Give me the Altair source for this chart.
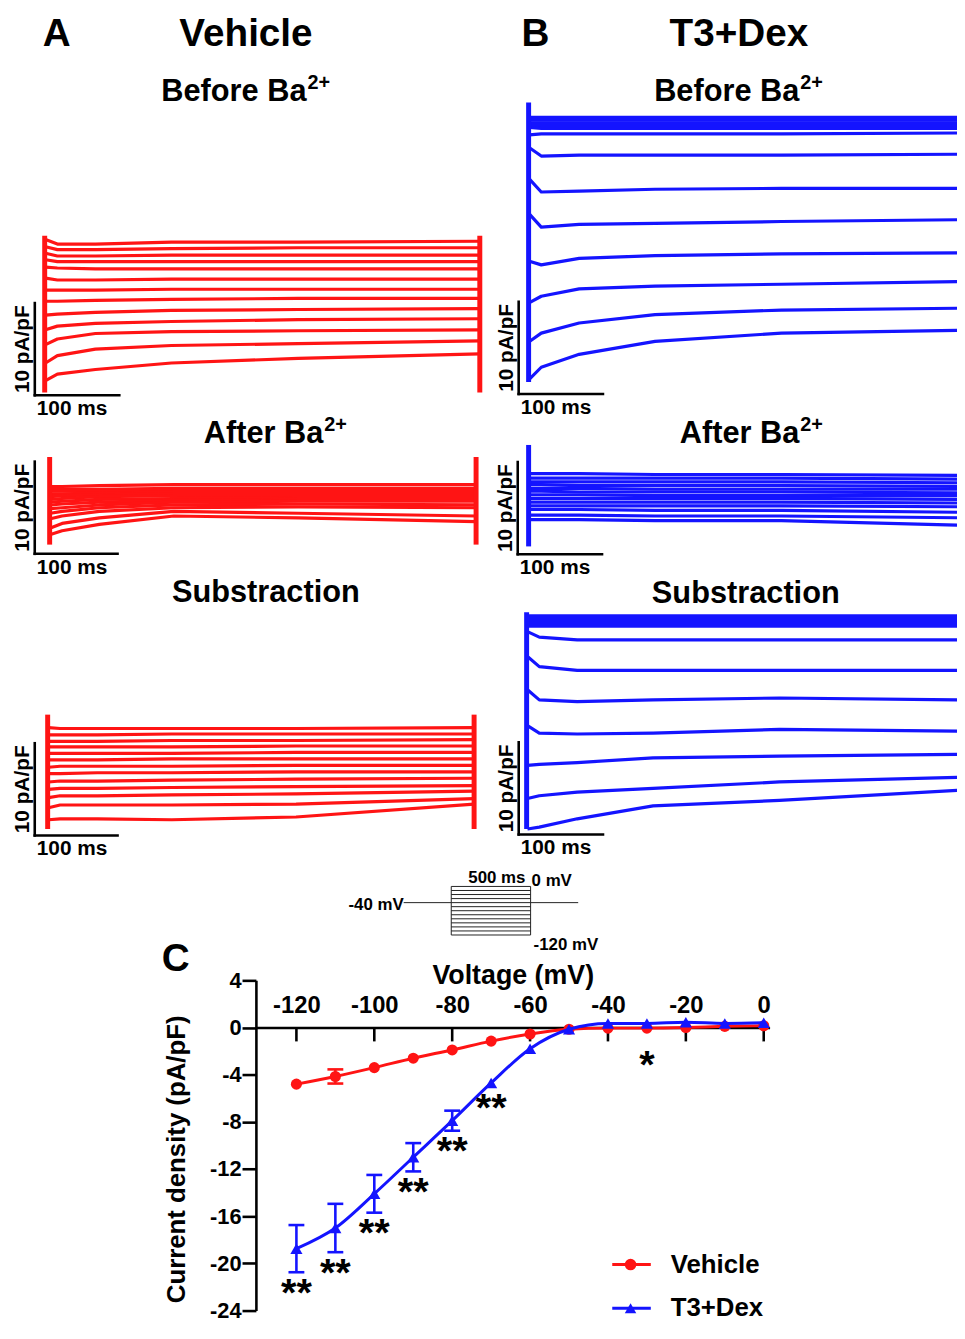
import altair as alt
import pandas as pd

# ================= Panel C: current density vs voltage =================
VOLTAGE = [-120, -110, -100, -90, -80, -70, -60, -50, -40, -30, -20, -10, 0]
VEH_MEAN = [-4.8, -4.15, -3.4, -2.6, -1.9, -1.15, -0.55, -0.15, -0.05, -0.05, 0.0, 0.1, 0.15]
VEH_SEM = [0.15, 0.6, 0.15, 0.15, 0.1, 0.1, 0.1, 0.05, 0.05, 0.05, 0.05, 0.05, 0.05]
T3_MEAN = [-18.75, -17.0, -14.1, -11.0, -7.9, -4.7, -1.8, -0.15, 0.35, 0.35, 0.45, 0.35, 0.4]
T3_SEM = [2.0, 2.05, 1.6, 1.2, 0.85, 0.35, 0.2, 0.1, 0.1, 0.1, 0.1, 0.1, 0.1]
GROUPS = ["Vehicle", "T3+Dex"]
SIG2_VOLT = [-120, -110, -100, -90, -80, -70]
SIG1_VOLT = [-30]
X_TICKS = [-120, -100, -80, -60, -40, -20, 0]
Y_TICKS = [4, 0, -4, -8, -12, -16, -20, -24]
X_DOMAIN = [-130.4, 1.5]
Y_DOMAIN = [-24, 4]

# ================= Panels A/B: current traces (pA/pF) at TRACE_T (ms) =================
TRACE_T = [1, 15, 60, 150, 300, 515]
SCALE_I = 10
SCALE_T = 100

A_BEFORE = [
    [0.2, -0.3, -0.3, -0.1, -0.1, 0.0],
    [-0.6, -0.9, -0.9, -0.8, -0.7, -0.7],
    [-1.3, -1.6, -1.6, -1.5, -1.5, -1.5],
    [-2.0, -2.2, -2.2, -2.2, -2.2, -2.2],
    [-2.8, -2.9, -3.0, -3.0, -3.0, -3.0],
    [-4.0, -4.2, -4.2, -4.1, -4.1, -4.1],
    [-5.3, -5.3, -5.3, -5.2, -5.2, -5.2],
    [-6.5, -6.5, -6.4, -6.3, -6.2, -6.2],
    [-8.0, -7.9, -7.7, -7.5, -7.4, -7.3],
    [-9.6, -9.2, -8.9, -8.7, -8.5, -8.4],
    [-11.2, -10.6, -10.0, -9.8, -9.7, -9.6],
    [-13.2, -12.4, -11.7, -11.3, -11.1, -10.8],
    [-15.1, -14.4, -13.9, -13.2, -12.7, -12.2],
]
A_AFTER = [
    [0.0, 0.0, 0.1, 0.2, 0.2, 0.2],
    [-0.3, -0.3, -0.3, -0.2, -0.2, -0.2],
    [-0.5, -0.5, -0.5, -0.4, -0.4, -0.4],
    [-0.8, -0.8, -0.7, -0.6, -0.6, -0.6],
    [-1.1, -1.0, -0.9, -0.8, -0.8, -0.8],
    [-1.4, -1.3, -1.1, -1.0, -1.0, -1.0],
    [-1.7, -1.6, -1.4, -1.3, -1.2, -1.2],
    [-2.0, -1.9, -1.7, -1.5, -1.4, -1.4],
    [-2.4, -2.3, -2.0, -1.7, -1.6, -1.6],
    [-2.9, -2.7, -2.3, -2.0, -1.9, -2.0],
    [-3.5, -3.2, -2.7, -2.3, -2.2, -2.3],
    [-4.5, -4.0, -3.4, -2.7, -2.9, -3.2],
    [-5.2, -4.8, -4.1, -3.2, -3.4, -3.8],
]
A_SUB = [
    [0.1, 0.0, 0.0, 0.0, 0.0, 0.1],
    [-0.7, -0.7, -0.7, -0.6, -0.6, -0.6],
    [-1.4, -1.4, -1.4, -1.3, -1.3, -1.2],
    [-2.0, -2.0, -2.0, -2.0, -1.9, -1.9],
    [-2.7, -2.7, -2.7, -2.7, -2.6, -2.6],
    [-3.4, -3.4, -3.4, -3.3, -3.3, -3.3],
    [-4.2, -4.1, -4.1, -4.1, -4.0, -4.0],
    [-4.9, -4.9, -4.8, -4.8, -4.7, -4.7],
    [-5.8, -5.7, -5.7, -5.6, -5.5, -5.4],
    [-6.6, -6.5, -6.5, -6.4, -6.3, -6.2],
    [-7.5, -7.3, -7.3, -7.2, -7.1, -6.8],
    [-8.6, -8.3, -8.3, -8.3, -8.2, -7.6],
    [-9.9, -9.8, -9.8, -9.9, -9.6, -8.2],
]
B_BEFORE = [
    [0.0, 0.0, 0.0, 0.0, 0.0, 0.0],
    [-0.3, -0.3, -0.3, -0.3, -0.3, -0.3],
    [-0.6, -0.6, -0.6, -0.6, -0.6, -0.6],
    [-0.9, -0.9, -0.9, -0.9, -0.9, -0.9],
    [-1.1, -1.2, -1.2, -1.2, -1.2, -1.2],
    [-1.9, -1.8, -1.8, -1.8, -1.8, -1.7],
    [-3.3, -4.2, -4.1, -4.1, -4.1, -4.0],
    [-6.7, -8.1, -8.0, -7.8, -7.7, -7.7],
    [-10.5, -11.9, -11.6, -11.5, -11.3, -11.1],
    [-15.6, -16.0, -15.3, -15.0, -14.8, -14.7],
    [-20.1, -19.4, -18.6, -18.3, -18.1, -17.8],
    [-24.3, -23.4, -22.3, -21.4, -20.9, -20.7],
    [-28.4, -27.1, -25.7, -24.3, -23.4, -23.1],
]
B_AFTER = [
    [-0.1, -0.1, -0.1, -0.2, -0.2, -0.3],
    [-0.6, -0.6, -0.6, -0.6, -0.6, -0.7],
    [-1.0, -1.0, -1.0, -1.0, -1.0, -1.1],
    [-1.3, -1.3, -1.4, -1.4, -1.4, -1.5],
    [-1.7, -1.7, -1.7, -1.8, -1.8, -1.8],
    [-2.0, -2.0, -2.1, -2.1, -2.1, -2.2],
    [-2.4, -2.4, -2.4, -2.5, -2.5, -2.5],
    [-2.8, -2.8, -2.8, -2.8, -2.8, -2.9],
    [-3.2, -3.2, -3.2, -3.2, -3.2, -3.3],
    [-3.6, -3.6, -3.6, -3.6, -3.6, -3.7],
    [-4.0, -4.0, -4.0, -4.1, -4.1, -4.3],
    [-4.6, -4.6, -4.6, -4.7, -4.7, -4.9],
    [-5.1, -5.1, -5.1, -5.2, -5.2, -5.7],
]
B_SUB = [
    [0.3, 0.3, 0.3, 0.3, 0.3, 0.3],
    [0.0, 0.0, 0.0, 0.0, 0.0, 0.0],
    [-0.2, -0.2, -0.2, -0.2, -0.2, -0.2],
    [-0.4, -0.4, -0.4, -0.4, -0.4, -0.4],
    [-0.6, -0.6, -0.6, -0.6, -0.6, -0.6],
    [-0.8, -0.8, -0.8, -0.8, -0.8, -0.8],
    [-1.4, -2.0, -2.3, -2.3, -2.3, -2.3],
    [-4.1, -5.2, -5.6, -5.6, -5.6, -5.6],
    [-7.7, -8.8, -9.0, -8.8, -8.6, -8.8],
    [-11.6, -12.4, -12.5, -12.4, -12.0, -12.2],
    [-15.9, -15.8, -15.6, -15.1, -14.9, -14.7],
    [-19.5, -19.2, -18.8, -18.4, -17.7, -17.2],
    [-22.8, -22.6, -21.7, -20.3, -19.7, -18.6],
]
# capacitive transients at step on/off (min, max in pA/pF)
SPIKES = {
    "A_BEFORE": (-16.4, 0.6),
    "A_AFTER": (-6.3, 3.2),
    "A_SUB": (-10.9, 1.5),
    "B_BEFORE": (-28.7, 1.6),
    "B_AFTER": (-8.0, 3.0),
    "B_SUB": (-22.8, 0.7),
}

# ================= voltage protocol =================
STEP_MV = [-120, -110, -100, -90, -80, -70, -60, -50, -40, -30, -20, -10, 0]
HOLD_MV = -40
STEP_MS = 500
HOLD_PRE_MS = -300
HOLD_POST_MS = 800

# ================= layout (page pixels) =================
FONT = "Liberation Sans"
RED = "#ff1414"
BLUE = "#1414ff"
CANVAS_W, CANVAS_H = 957, 1316
PL, PT, PW, PH = 258, 983, 518, 333  # plot area of panel C, page coordinates

GEO = {
    "A_BEFORE": dict(ox=45, oy=237.7, sx=0.852, sy=9.3, tb=-11.7, ib=-16.7),
    "A_AFTER": dict(ox=50, oy=485, sx=0.835, sy=9.3, tb=-18.0, ib=-7.3),
    "A_SUB": dict(ox=48, oy=729, sx=0.835, sy=9.3, tb=-15.6, ib=-11.6),
    "B_BEFORE": dict(ox=533, oy=112.7, sx=0.85, sy=9.3, tb=-11.8, ib=-30.0),
    "B_AFTER": dict(ox=533, oy=471, sx=0.85, sy=9.3, tb=-12.9, ib=-8.85),
    "B_SUB": dict(ox=531, oy=618.3, sx=0.85, sy=9.3, tb=-9.4, ib=-23.4),
}


def xscale(ox, sx):
    d0 = (PL - ox) / sx
    return alt.Scale(domain=[d0, d0 + PW / sx], nice=False, zero=False)


def yscale(oy, sy):
    e0 = (oy - (PT + PH)) / sy
    return alt.Scale(domain=[e0, e0 + PH / sy], nice=False, zero=False)


def enc(xs, ys):
    X = lambda f: alt.X(f, type="quantitative", scale=xs, axis=None)
    Y = lambda f: alt.Y(f, type="quantitative", scale=ys, axis=None)
    return X, Y


def trace_panel(key, traces, color):
    g = GEO[key]
    X, Y = enc(xscale(g["ox"], g["sx"]), yscale(g["oy"], g["sy"]))
    rows = [{"sweep": k, "t": t, "i": v}
            for k, tr in enumerate(traces) for t, v in zip(TRACE_T, tr)]
    lines = alt.Chart(pd.DataFrame(rows)).mark_line(
        color=color, strokeWidth=3.2, strokeJoin="round"
    ).encode(x=X("t"), y=Y("i"), detail="sweep:N")
    lo, hi = SPIKES[key]
    sp = pd.DataFrame({"t": [0, TRACE_T[-1]], "lo": [lo, lo], "hi": [hi, hi]})
    spikes = alt.Chart(sp).mark_rule(color=color, strokeWidth=5).encode(
        x=X("t"), y=Y("lo"), y2="hi:Q")
    sb = pd.DataFrame({
        "t": [g["tb"]], "t2": [g["tb"] + SCALE_T],
        "i": [g["ib"]], "i2": [g["ib"] + SCALE_I], "im": [g["ib"] + SCALE_I / 2],
        "li": [f"{SCALE_I} pA/pF"], "lt": [f"{SCALE_T} ms"],
    })
    vbar = alt.Chart(sb).mark_rule(color="black", strokeWidth=2.6, strokeCap="square").encode(
        x=X("t"), y=Y("i"), y2="i2:Q")
    hbar = alt.Chart(sb).mark_rule(color="black", strokeWidth=2.6, strokeCap="square").encode(
        x=X("t"), x2="t2:Q", y=Y("i"))
    vlab = alt.Chart(sb).mark_text(
        angle=270, align="center", baseline="bottom", dy=-2,
        font=FONT, fontWeight="bold", fontSize=21, color="black"
    ).encode(x=X("t"), y=Y("im"), text="li:N")
    hlab = alt.Chart(sb).mark_text(
        align="left", baseline="top", dx=2, dy=3,
        font=FONT, fontWeight="bold", fontSize=21, color="black"
    ).encode(x=X("t"), y=Y("i"), text="lt:N")
    return alt.layer(lines, spikes, vbar, hbar, vlab, hlab)


def protocol_panel():
    X, Y = enc(xscale(455, 0.16), yscale(888.3, 0.408))
    vmin, vmax = min(STEP_MV), max(STEP_MV)
    steps = pd.DataFrame({"t0": [0] * len(STEP_MV), "t1": [STEP_MS] * len(STEP_MV), "v": STEP_MV})
    hold = pd.DataFrame({"t0": [HOLD_PRE_MS, STEP_MS], "t1": [0, HOLD_POST_MS], "v": [HOLD_MV, HOLD_MV]})
    sides = pd.DataFrame({"t": [0, STEP_MS], "v0": [vmin, vmin], "v1": [vmax, vmax]})
    style = dict(color="#222222", strokeWidth=1)
    l1 = alt.Chart(steps).mark_rule(**style).encode(x=X("t0"), x2="t1:Q", y=Y("v"))
    l2 = alt.Chart(hold).mark_rule(**style).encode(x=X("t0"), x2="t1:Q", y=Y("v"))
    l3 = alt.Chart(sides).mark_rule(**style).encode(x=X("t"), y=Y("v0"), y2="v1:Q")
    tf = dict(font=FONT, fontWeight="bold", fontSize=17, color="black")
    labs = [
        (pd.DataFrame({"t": [HOLD_PRE_MS], "v": [HOLD_MV], "s": [f"{HOLD_MV} mV"]}),
         dict(align="right", baseline="middle", dx=0, dy=2)),
        (pd.DataFrame({"t": [STEP_MS / 2], "v": [vmax], "s": [f"{STEP_MS} ms"]}),
         dict(align="center", baseline="alphabetic", dx=6, dy=-3)),
        (pd.DataFrame({"t": [STEP_MS], "v": [vmax], "s": [f"{vmax} mV"]}),
         dict(align="left", baseline="alphabetic", dx=1, dy=0)),
        (pd.DataFrame({"t": [STEP_MS], "v": [vmin], "s": [f"{vmin} mV"]}),
         dict(align="left", baseline="top", dx=3, dy=2)),
    ]
    texts = [alt.Chart(d).mark_text(**tf, **o).encode(x=X("t"), y=Y("v"), text="s:N") for d, o in labs]
    return alt.layer(l1, l2, l3, *texts)


def headings_layer():
    X, Y = enc(xscale(0, 1), yscale(0, -1))  # identity: page pixels
    center = pd.DataFrame({
        "s": ["A", "Vehicle", "B", "T3+Dex", "Substraction", "Substraction", "C"],
        "x": [57, 248, 540, 745, 268, 752, 177],
        "y": [41, 41, 41, 41, 601, 602, 974],
        "f": [39, 39, 39, 39, 31, 31, 39],
    })
    right = pd.DataFrame({
        "s": ["Before Ba", "Before Ba", "After Ba", "After Ba"],
        "x": [309, 806, 326, 806], "y": [96, 96, 441, 441], "f": [31, 31, 31, 31],
    })
    sup = pd.DataFrame({
        "s": ["2+", "2+", "2+", "2+"],
        "x": [310, 807, 327, 807], "y": [84, 84, 429, 429], "f": [20, 20, 20, 20],
    })
    out = []
    for d, al in [(center, "center"), (right, "right"), (sup, "left")]:
        out.append(alt.Chart(d).mark_text(
            align=al, baseline="alphabetic", font=FONT, fontWeight="bold", color="black"
        ).encode(x=X("x"), y=Y("y"), text="s:N", size=alt.Size("f:Q", scale=None)))
    return alt.layer(*out)


def iv_panel():
    xs = alt.Scale(domain=X_DOMAIN, nice=False, zero=False)
    ys = alt.Scale(domain=Y_DOMAIN, nice=False, zero=False)
    y0_off = PH * Y_DOMAIN[1] / (Y_DOMAIN[1] - Y_DOMAIN[0])
    xax = alt.Axis(orient="top", offset=-y0_off, values=X_TICKS, title="Voltage (mV)",
                   ticks=False, tickSize=0, labelPadding=10, domainWidth=2.6, domainColor="black",
                   labelExpr="'' + datum.value", grid=False, labelFontSize=24,
                   titleFontSize=27, titlePadding=4, labelFlush=False)
    yax = alt.Axis(orient="left", values=Y_TICKS, title="Current density (pA/pF)",
                   tickSize=14, tickWidth=2.6, tickColor="black", domainWidth=2.6,
                   domainColor="black", labelPadding=1, labelExpr="'' + datum.value",
                   grid=False, labelFontSize=22, titleFontSize=26,
                   titleX=-67, titleY=180, titleBaseline="bottom")
    X = lambda f: alt.X(f, type="quantitative", scale=xs, axis=xax)
    Y = lambda f: alt.Y(f, type="quantitative", scale=ys, axis=yax)
    layers = []
    tk = pd.DataFrame({"v": X_TICKS, "z": [0] * len(X_TICKS)})
    layers.append(alt.Chart(tk).mark_point(
        shape="M0,0L0,1", size=784, filled=False, color="black", strokeWidth=2.6, opacity=1
    ).encode(x=X("v"), y=Y("z")))
    specs = [("Vehicle", VEH_MEAN, VEH_SEM, RED, "circle", 125),
             ("T3+Dex", T3_MEAN, T3_SEM, BLUE, "triangle-up", 150)]
    for g, m, e, col, shp, sz in specs:
        df = pd.DataFrame({"v": VOLTAGE, "m": m, "e": e,
                           "lo": [a - b for a, b in zip(m, e)],
                           "hi": [a + b for a, b in zip(m, e)]})
        base = alt.Chart(df)
        eb = base.transform_filter("datum.e >= 0.5")
        layers += [
            base.mark_line(color=col, strokeWidth=3, interpolate="monotone").encode(x=X("v"), y=Y("m")),
            eb.mark_rule(color=col, strokeWidth=2.6).encode(x=X("v"), y=Y("lo"), y2="hi:Q"),
            eb.mark_point(shape="M-1,0L1,0", size=256, filled=False, color=col,
                          strokeWidth=2.6, opacity=1).encode(x=X("v"), y=Y("lo")),
            eb.mark_point(shape="M-1,0L1,0", size=256, filled=False, color=col,
                          strokeWidth=2.6, opacity=1).encode(x=X("v"), y=Y("hi")),
            base.mark_point(shape=shp, filled=True, size=sz, color=col, opacity=1).encode(x=X("v"), y=Y("m")),
        ]
    t3lo = {v: a - b for v, a, b in zip(VOLTAGE, T3_MEAN, T3_SEM)}
    vehlo = {v: a - b for v, a, b in zip(VOLTAGE, VEH_MEAN, VEH_SEM)}
    s2 = pd.DataFrame({"v": SIG2_VOLT, "y": [t3lo[v] for v in SIG2_VOLT], "s": ["**"] * len(SIG2_VOLT)})
    s1 = pd.DataFrame({"v": SIG1_VOLT, "y": [min(t3lo[v], vehlo[v]) for v in SIG1_VOLT], "s": ["*"] * len(SIG1_VOLT)})
    st = dict(font=FONT, fontWeight="bold", fontSize=40, color="black", align="center", baseline="alphabetic")
    layers.append(alt.Chart(s2).mark_text(dy=34, **st).encode(x=X("v"), y=Y("y"), text="s:N"))
    layers.append(alt.Chart(s1).mark_text(dy=50, **st).encode(x=X("v"), y=Y("y"), text="s:N"))
    # legend
    leg = pd.DataFrame({"g": GROUPS, "y": [-20.1, -23.8],
                        "x1": [-38.9, -38.9], "x2": [-29.0, -29.0],
                        "xm": [-34.2, -34.2], "xt": [-23.9, -23.9]})
    cs = alt.Color("g:N", scale=alt.Scale(domain=GROUPS, range=[RED, BLUE]), legend=None)
    ss = alt.Shape("g:N", scale=alt.Scale(domain=GROUPS, range=["circle", "triangle-up"]), legend=None)
    layers.append(alt.Chart(leg).mark_rule(strokeWidth=3).encode(
        x=X("x1"), x2="x2:Q", y=Y("y"), color=cs))
    layers.append(alt.Chart(leg).mark_point(filled=True, size=135, opacity=1).encode(
        x=X("xm"), y=Y("y"), color=cs, shape=ss))
    layers.append(alt.Chart(leg).mark_text(
        align="left", baseline="middle", font=FONT, fontWeight="bold", fontSize=26, color="black"
    ).encode(x=X("xt"), y=Y("y"), text="g:N"))
    return alt.layer(*layers)


chart = alt.layer(
    iv_panel(),
    trace_panel("A_BEFORE", A_BEFORE, RED),
    trace_panel("A_AFTER", A_AFTER, RED),
    trace_panel("A_SUB", A_SUB, RED),
    trace_panel("B_BEFORE", B_BEFORE, BLUE),
    trace_panel("B_AFTER", B_AFTER, BLUE),
    trace_panel("B_SUB", B_SUB, BLUE),
    protocol_panel(),
    headings_layer(),
).resolve_scale(
    x="independent", y="independent"
).properties(
    width=PW, height=PH,
    padding={"left": PL - 8, "top": PT - 8,
             "right": CANVAS_W - (PL - 8) - PW, "bottom": CANVAS_H - (PT - 8) - PH},
    autosize=alt.AutoSizeParams(type="none"),
).configure_view(stroke=None).configure_axis(
    labelFont=FONT, titleFont=FONT, labelFontWeight="bold", titleFontWeight="bold",
    labelColor="black", titleColor="black",
)

chart.save("out.html", embed_options={"renderer": "svg", "actions": False})
